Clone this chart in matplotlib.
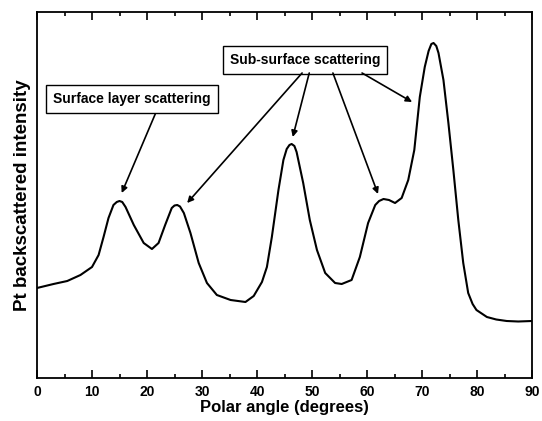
import matplotlib
matplotlib.use("Agg")
import matplotlib.pyplot as plt
from matplotlib.ticker import MultipleLocator

plt.rcParams['font.family'] = ['Liberation Sans', 'DejaVu Sans']

angle = [0, 3, 5.5, 7.9, 10, 11.2, 12.1, 13.0, 13.9, 14.5, 15.0, 15.5, 16.1, 17.6,
         19.4, 20.9, 22.1, 23.3, 24.5, 25.0, 25.5, 26.0, 26.7, 27.9, 29.4, 30.9,
         32.7, 35.2, 37.9, 39.4, 40.9, 41.8, 42.7, 43.9, 44.8, 45.4, 45.9, 46.3,
         46.8, 47.2, 48.4, 49.6, 50.9, 52.4, 54.2, 55.4, 57.2, 58.7, 60.2, 61.5,
         62.2, 63.0, 64.0, 65.1, 66.3, 67.5, 68.6, 69.6, 70.5, 71.2, 71.7, 72.1,
         72.6, 73.0, 73.9, 74.8, 75.7, 76.6, 77.5, 78.4, 79.2, 79.9, 81.8, 83.5,
         85.4, 87.5, 90]
intensity = [90, 94, 97, 103, 111, 123, 141, 160, 173, 176, 177, 176, 171, 153,
             135, 129, 135, 153, 170, 172.5, 173, 171.5, 165, 145, 115, 95,
             83, 78, 76, 82, 96, 111, 141, 188, 218, 229, 233, 234,
             232, 226, 195, 158, 128, 105, 95, 94, 98, 121, 155, 173,
             177, 179, 178, 175, 180, 198, 228, 281, 311, 327, 334, 335,
             332, 325, 298, 255, 208, 158, 115, 85, 74, 68, 61, 58.5,
             57, 56.5, 57]

xticks = [0, 10, 20, 30, 40, 50, 60, 70, 80, 90]
xlabel = "Polar angle (degrees)"
ylabel = "Pt backscattered intensity"

label_surface = "Surface layer scattering"
label_sub = "Sub-surface scattering"
surface_box = (17.3, 279)
sub_box = (48.7, 318)
surface_arrows = [((21.5, 264), (15.4, 185))]
sub_arrows = [((48.2, 305), (27.3, 175)),
              ((49.5, 305), (46.5, 241)),
              ((53.8, 305), (62.0, 184)),
              ((59.1, 305), (68.2, 276))]

fig = plt.figure(figsize=(5.42, 4.21), dpi=100)
ax = fig.add_axes([37/542, 43/421, 495/542, 366/421])
ax.plot(angle, intensity, color='black', lw=1.5)
ax.set_xlim(0, 90)
ax.set_ylim(0, 366)
ax.set_xticks(xticks)
ax.xaxis.set_minor_locator(MultipleLocator(5))
ax.set_yticks([])
ax.tick_params(axis='x', which='both', direction='in', top=True, bottom=True,
               width=1.2)
ax.tick_params(axis='x', which='major', length=6, labelsize=10, pad=5)
ax.tick_params(axis='x', which='minor', length=3)
for lab in ax.get_xticklabels():
    lab.set_fontweight('bold')
for s in ax.spines.values():
    s.set_linewidth(1.3)
ax.set_xlabel(xlabel, fontsize=12, fontweight='bold', labelpad=1)
ax.set_ylabel(ylabel, fontsize=13.5, fontweight='bold', labelpad=4)

bbox = dict(boxstyle='square,pad=0.5', fc='white', ec='black', lw=1.0)
ax.text(*surface_box, label_surface, ha='center', va='center', fontsize=10,
        fontweight='bold', bbox=bbox)
ax.text(*sub_box, label_sub, ha='center', va='center', fontsize=10,
        fontweight='bold', bbox=bbox)
ap = dict(arrowstyle='-|>', lw=1.2, color='black', mutation_scale=9,
          shrinkA=0, shrinkB=0)
for (s, e) in surface_arrows + sub_arrows:
    ax.annotate('', xy=e, xytext=s, arrowprops=ap)

fig.savefig('out.png', dpi=100)
